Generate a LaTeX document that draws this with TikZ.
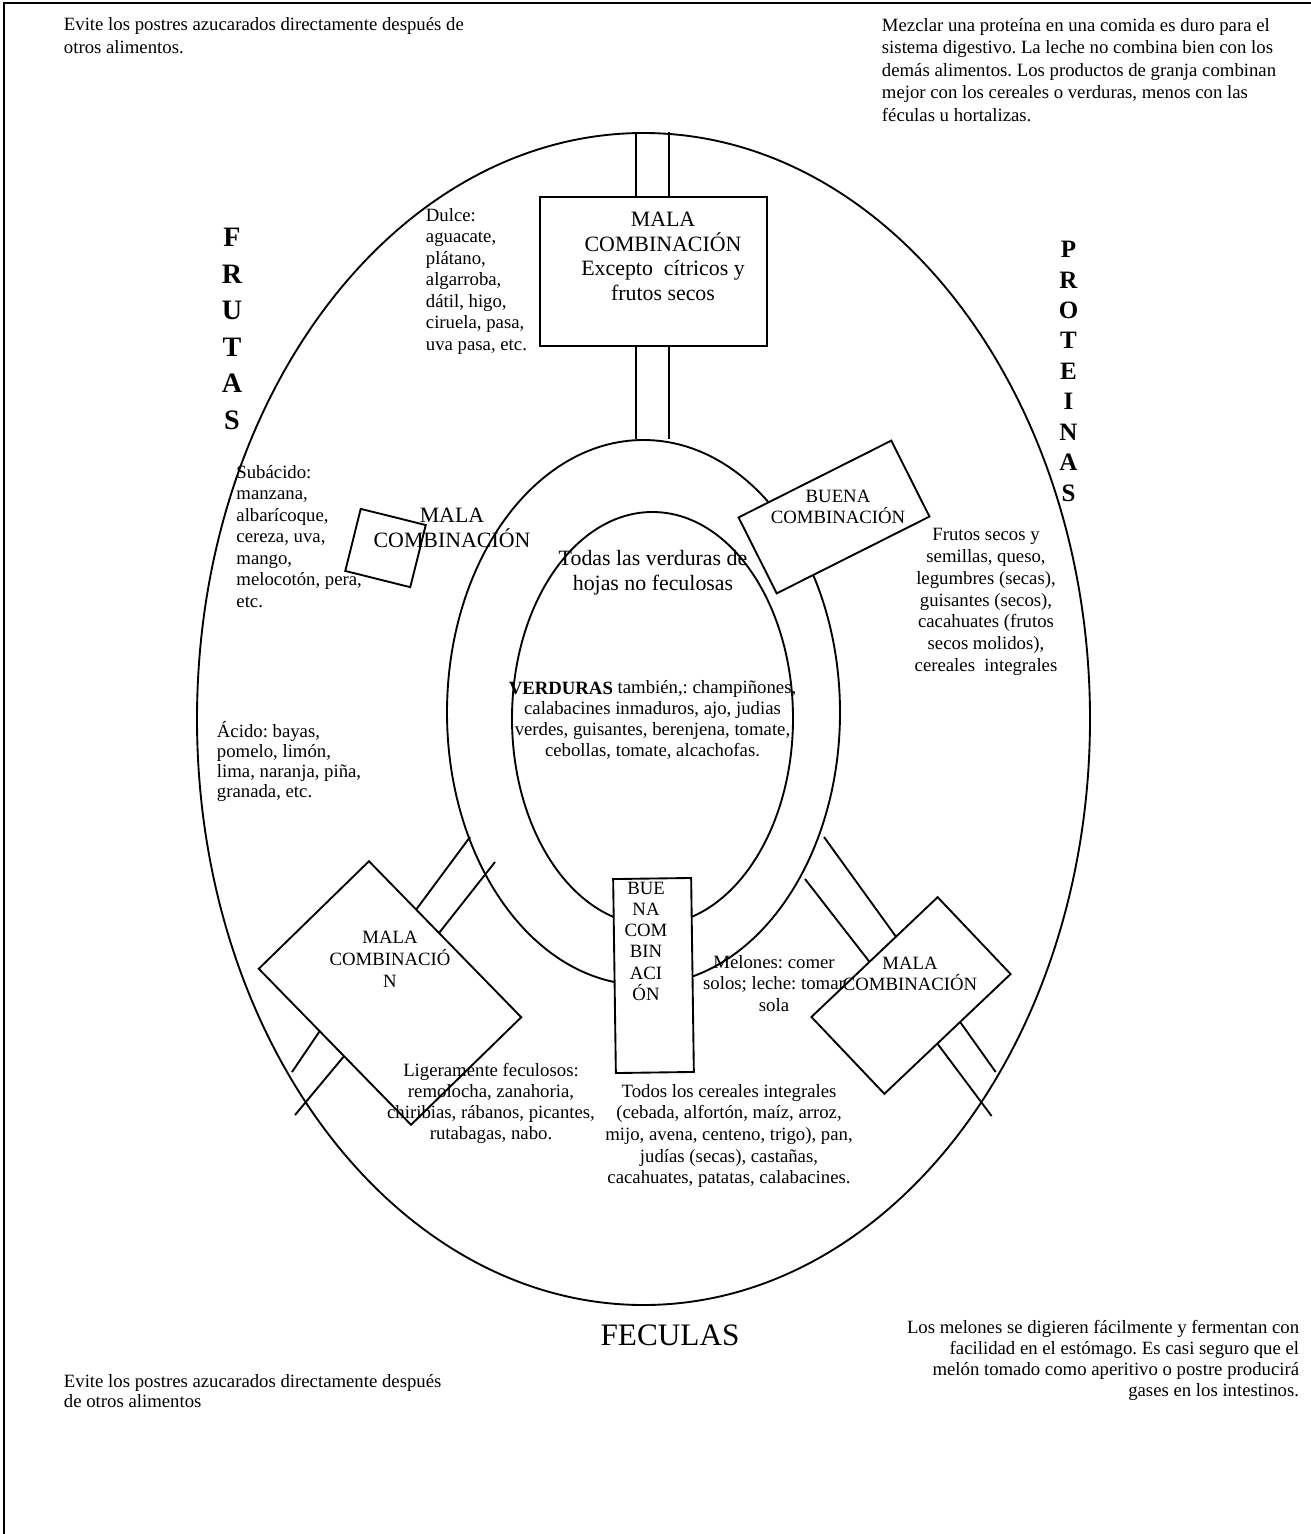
\documentclass[tikz,border=0pt]{standalone}
\usepackage{fontspec}
\setmainfont{Liberation Serif}
\usetikzlibrary{calc,shapes.geometric}
\newcommand{\pxu}{0.64pt}
\frenchspacing
\begin{document}
\begin{tikzpicture}[x=0.64pt, y=-0.64pt, line width=1.2pt,
  oval/.style={ellipse, draw, inner sep=0pt},
  board/.style={draw, fill=white, inner sep=0pt, outer sep=0pt},
  txt/.style={inner sep=0pt, font=\fontsize{12}{#1}\selectfont},
  bigtxt/.style={inner sep=0pt, font=\fontsize{14}{#1}\selectfont},
  group/.style={inner sep=0pt, align=center, anchor=base}]
\useasboundingbox (0,0) rectangle (1311,1534);
\draw (4,1534) -- (4,3) -- (1311,3);

\node[oval, minimum width=893*\pxu, minimum height=1172*\pxu] (outer) at (643.5,719) {};
\node[oval, minimum width=393*\pxu, minimum height=545*\pxu] (ring) at (643.5,712.5) {};
\node[oval, minimum width=281*\pxu, minimum height=413*\pxu] (core) at (652.5,718.5) {};

\node[board, minimum width=227*\pxu, minimum height=149*\pxu] (topbox) at (653.5,271.5) {};
\node[board, rotate=-14, minimum width=67*\pxu, minimum height=64*\pxu] (fruitbox) at (385.5,548) {};
\node[board, rotate=26.7, minimum width=171*\pxu, minimum height=85*\pxu] (protbox) at (834,517) {};
\node[board, rotate=-45.7, minimum width=218*\pxu, minimum height=154*\pxu] (llbox) at (390,993) {};
\node[board, rotate=43.5, minimum width=174*\pxu, minimum height=106*\pxu] (lrbox) at (911,995.5) {};
\node[board, rotate=0.8, minimum width=78*\pxu, minimum height=194*\pxu] (starchbox) at (653.5,975.5) {};

\path (topbox.north west) -- (topbox.north east) coordinate[pos=.423] (ta) coordinate[pos=.568] (tb);
\path (topbox.south west) -- (topbox.south east) coordinate[pos=.423] (ba) coordinate[pos=.568] (bb);
\draw (ta) -- (ta |- outer.north);
\draw (tb) -- (tb |- outer.north);
\draw (ba) -- (ba |- ring.north);
\draw (bb) -- (bb |- ring.north);

\coordinate (lla) at (470,837);
\coordinate (llb) at (495,862);
\coordinate (llc) at (292,1072);
\coordinate (lld) at (295,1115);
\draw (lla) -- ($(llbox.north west)!.31!(llbox.north east)$);
\draw (llb) -- ($(llbox.north west)!.46!(llbox.north east)$);
\draw ($(llbox.south west)!.40!(llbox.south east)$) -- (llc);
\draw ($(llbox.south west)!.56!(llbox.south east)$) -- (lld);

\coordinate (lra) at (824,837);
\coordinate (lrb) at (805,879);
\coordinate (lrc) at (995.7,1072);
\coordinate (lrd) at (991.6,1116);
\draw (lra) -- ($(lrbox.north west)!.67!(lrbox.north east)$);
\draw (lrb) -- ($(lrbox.north west)!.46!(lrbox.north east)$);
\draw ($(lrbox.south west)!.60!(lrbox.south east)$) -- (lrc);
\draw ($(lrbox.south west)!.42!(lrbox.south east)$) -- (lrd);

\node[txt=14.4, align=left, anchor=base west] (warntop) at (63,53.5) {Evite los postres azucarados directamente después de\\otros alimentos.};
\node[txt=14.4, align=left, anchor=base west] (protnote) at (881,121) {Mezclar una proteína en una comida es duro para el\\sistema digestivo. La leche no combina bien con los\\demás alimentos. Los productos de granja combinan\\mejor con los cereales o verduras, menos con las\\féculas u hortalizas.};
\node[txt=12.8, align=left, anchor=base west] (warnbottom) at (63,1407) {Evite los postres azucarados directamente después\\de otros alimentos};
\node[txt=13.4, align=right, anchor=base east] (melonnote) at (1300,1396) {Los melones se digieren fácilmente y fermentan con\\facilidad en el estómago. Es casi seguro que el\\melón tomado como aperitivo o postre producirá\\gases en los intestinos.};

\node[group, font=\bfseries\fontsize{18}{23.4}\selectfont] (frutas) at (232,429.3) {F\\R\\U\\T\\A\\S};
\node[group, font=\bfseries\fontsize{16}{19.5}\selectfont] (proteinas) at (1068.5,501.3) {P\\R\\O\\T\\E\\I\\N\\A\\S};
\node[inner sep=0pt, anchor=base, font=\fontsize{20}{24}\selectfont] (feculas) at (670,1345) {FECULAS};

\node[txt=13.8, align=left, anchor=base west] (dulce) at (425,350.4) {Dulce:\\aguacate,\\plátano,\\algarroba,\\dátil, higo,\\ciruela, pasa,\\uva pasa, etc.};
\node[txt=13.8, align=left, anchor=base west] (subacido) at (235.5,607.4) {Subácido:\\manzana,\\albarícoque,\\cereza, uva,\\mango,\\melocotón, pera,\\etc.};
\node[txt=12.8, align=left, anchor=base west] (acido) at (216,797) {Ácido: bayas,\\pomelo, limón,\\lima, naranja, piña,\\granada, etc.};
\node[txt=13.9, align=center, anchor=base] (frutos) at (986,671.3) {Frutos secos y\\semillas, queso,\\legumbres (secas),\\guisantes (secos),\\cacahuates (frutos\\secos molidos),\\cereales\ \ integrales};
\node[bigtxt=16, align=center, anchor=base] (hojas) at (653,590) {Todas las verduras de\\hojas no feculosas};
\node[txt=13.25, align=center, anchor=base] (verduras) at (652.5,756.1) {\textbf{VERDURAS} también,: champiñones,\\calabacines inmaduros, ajo, judias\\verdes, guisantes, berenjena, tomate,\\cebollas, tomate, alcachofas.};
\node[txt=14, align=center, anchor=base] (melones) at (774,1011.8) {Melones: comer\\solos; leche: tomar\\sola};
\node[txt=13.6, align=center, anchor=base] (ligeros) at (491,1139.8) {Ligeramente feculosos:\\remolocha, zanahoria,\\chiribias, rábanos, picantes,\\rutabagas, nabo.};
\node[txt=13.9, align=center, anchor=base] (cereales) at (729,1183.9) {Todos los cereales integrales\\(cebada, alfortón, maíz, arroz,\\mijo, avena, centeno, trigo), pan,\\judías (secas), castañas,\\cacahuates, patatas, calabacines.};

\node[bigtxt=15.6, align=center, anchor=base] (toplabel) at (663,300.1) {MALA\\COMBINACIÓN\\Excepto\ \ cítricos y\\frutos secos};
\node[bigtxt=15.4, align=center, anchor=base] (fruitlabel) at (452,547) {MALA\\COMBINACIÓN};
\node[txt=14, align=center, anchor=base] (protlabel) at (838,523.9) {BUENA\\COMBINACIÓN};
\node[txt=13.8, align=center, anchor=base] (lllabel) at (390,987.1) {MALA\\COMBINACIÓ\\N};
\node[txt=13.4, align=center, anchor=base] (lrlabel) at (910,990.9) {MALA\\COMBINACIÓN};
\node[txt=13.6, align=center, anchor=base] (starchlabel) at (646,1000.3) {BUE\\NA\\COM\\BIN\\ACI\\ÓN};
\end{tikzpicture}
\end{document}
